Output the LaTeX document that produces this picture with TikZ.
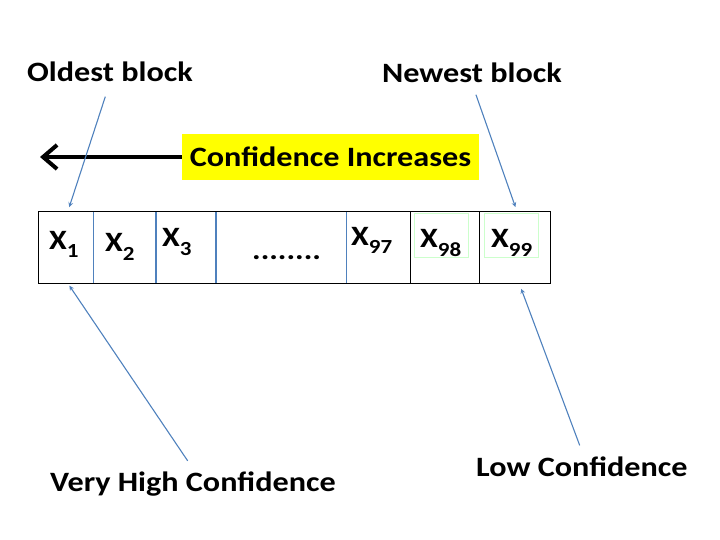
\documentclass[tikz,border=0pt]{standalone}
\usepackage{fontspec}
\setmainfont{Carlito}[FakeStretch=1.15]
\usepackage{xcolor}
\usetikzlibrary{arrows, arrows.meta, positioning}
\definecolor{lineblue}{RGB}{79,129,189}
\definecolor{hilite}{RGB}{255,255,0}
\newcommand{\xsub}[1]{X\raisebox{-9pt}{\bfseries\fontsize{20}{22}\selectfont #1}}
\tikzstyle{caption} = [font=\bfseries\fontsize{28}{32}\selectfont, inner sep=0pt, anchor=base west]
\tikzstyle{cell} = [rectangle, minimum height=71pt, inner sep=0pt]
\tikzstyle{xlabel} = [font=\bfseries\fontsize{28}{32}\selectfont, inner sep=0pt, anchor=base west]
\tikzstyle{divider} = [draw=lineblue, line width=1.6pt]
\tikzstyle{pointer} = [draw=lineblue, line width=1.1pt, ->, >=stealth]

\begin{document}
\begin{tikzpicture}[x=1pt, y=-1pt]
\useasboundingbox (0,0) rectangle (720,540);

% Block row
\node (c1) [cell, anchor=west, minimum width=55pt] at (38,247.5) {};
\node (c2) [cell, right=0pt of c1, minimum width=62pt] {};
\node (c3) [cell, right=0pt of c2, minimum width=60pt] {};
\node (c4) [cell, right=0pt of c3, minimum width=130pt] {};
\node (c5) [cell, right=0pt of c4, minimum width=63pt] {};
\node (c6) [cell, right=0pt of c5, minimum width=69pt] {};
\node (c7) [cell, right=0pt of c6, minimum width=71pt] {};
\draw [line width=0.9pt] (c1.north west) rectangle (c7.south east);
\draw [divider] (c1.north east) -- (c1.south east);
\draw [divider] (c2.north east) -- (c2.south east);
\draw [divider] (c3.north east) -- (c3.south east);
\draw [divider] (c4.north east) -- (c4.south east);
\draw [line width=0.8pt] (c5.north east) -- (c5.south east);
\draw [line width=1.5pt] (c6.north east) -- (c6.south east);

% faint boxes round the last two labels
\draw [green!20, line width=0.6pt] (414,213) rectangle (468,257);
\draw [green!20, line width=0.6pt] (484,213) rectangle (538,257);

% Labels in the blocks
\node (x1) [xlabel] at (49,249) {\xsub{1}};
\node (x2) [xlabel] at (105,251.5) {\xsub{2}};
\node (x3) [xlabel] at (162,246.5) {\xsub{3}};
\node (dots) [xlabel] at (252,259) {........};
\node (x97) [xlabel] at (351,245) {\xsub{97}};
\node (x98) [xlabel] at (420,247.3) {\xsub{98}};
\node (x99) [xlabel] at (491,247.3) {\xsub{99}};

% Captions
\node (oldest) [caption] at (27,82) {Oldest block};
\node (newest) [caption] at (382,83) {Newest block};
\node (veryhigh) [caption] at (50,491.5) {Very High Confidence};
\node (low) [caption] at (476,476.5) {Low Confidence};
\node (incr) [caption, anchor=center, fill=hilite, minimum width=297pt, minimum height=46pt] at (330.5,157) {Confidence Increases};
\coordinate (tip) at (40,157);

% Arrows
\draw [line width=4pt, -{Straight Barb[length=14pt, width=24pt, line width=4pt]}] (incr.west) -- (tip);
\draw [pointer, shorten <=15pt, shorten >=5pt] (oldest.south) -- ([xshift=2pt]c1.north);
\draw [pointer, shorten <=12pt, shorten >=5pt] (newest.south) -- ([xshift=2pt]c7.north);
\draw [pointer, shorten <=13pt, shorten >=3pt] ([xshift=2pt]veryhigh.north) -- ([xshift=2pt]c1.south);
\draw [pointer, shorten <=12pt, shorten >=6pt] ([xshift=2pt]low.north) -- ([xshift=4pt]c7.south);

\end{tikzpicture}
\end{document}
